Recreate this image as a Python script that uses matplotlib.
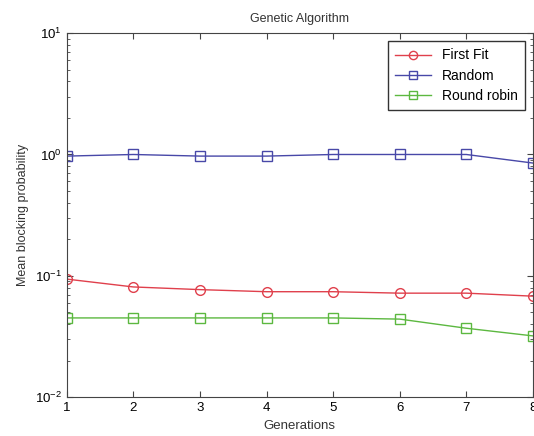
import matplotlib
matplotlib.use("Agg")
import matplotlib.pyplot as plt
from matplotlib.ticker import LogLocator

plt.rcParams["font.family"] = ["Liberation Sans", "DejaVu Sans"]
plt.rcParams["mathtext.default"] = "regular"

generations = [1, 2, 3, 4, 5, 6, 7, 8]
first_fit = [0.094, 0.081, 0.077, 0.074, 0.074, 0.072, 0.072, 0.068]
random_ = [0.97, 1.0, 0.97, 0.97, 1.0, 1.0, 1.0, 0.85]
round_robin = [0.045, 0.045, 0.045, 0.045, 0.045, 0.044, 0.037, 0.032]

fig = plt.figure(figsize=(5.34, 4.36), dpi=100)
ax = fig.add_axes([0.125, 0.089, 0.873, 0.835])

ax.plot(generations, first_fit, color="#e0404c", marker="o", mfc="none",
        ms=7, lw=1, label="First Fit")
ax.plot(generations, random_, color="#4848a8", marker="s", mfc="none",
        ms=7, lw=1, label="Random")
ax.plot(generations, round_robin, color="#5cb840", marker="s", mfc="none",
        ms=7, lw=1, label="Round robin")

ax.set_yscale("log")
ax.set_xlim(1, 8)
ax.set_ylim(1e-2, 1e1)
ax.set_xticks(generations)
ax.yaxis.set_major_locator(LogLocator(base=10, numticks=10))
ax.yaxis.set_minor_locator(LogLocator(base=10, subs=range(2, 10), numticks=10))
ax.tick_params(direction="in", top=True, right=True, which="both",
               labelsize=9.5, color="#444444")
ax.tick_params(which="major", length=4)
ax.tick_params(which="minor", length=2)
for s in ax.spines.values():
    s.set_color("#444444")

ax.set_title("Genetic Algorithm", fontsize=9, color="#333333", pad=8)
ax.set_xlabel("Generations", fontsize=9.5, color="#333333", labelpad=4)
ax.set_ylabel("Mean blocking probability", fontsize=9, color="#333333")

leg = ax.legend(loc="upper right", fontsize=10, fancybox=False,
                edgecolor="#333333", framealpha=1, borderaxespad=0.6,
                handlelength=2.6, labelspacing=0.45, markerscale=0.85,
                borderpad=0.5)
leg.get_frame().set_linewidth(1)

fig.savefig("out.png", dpi=100)
